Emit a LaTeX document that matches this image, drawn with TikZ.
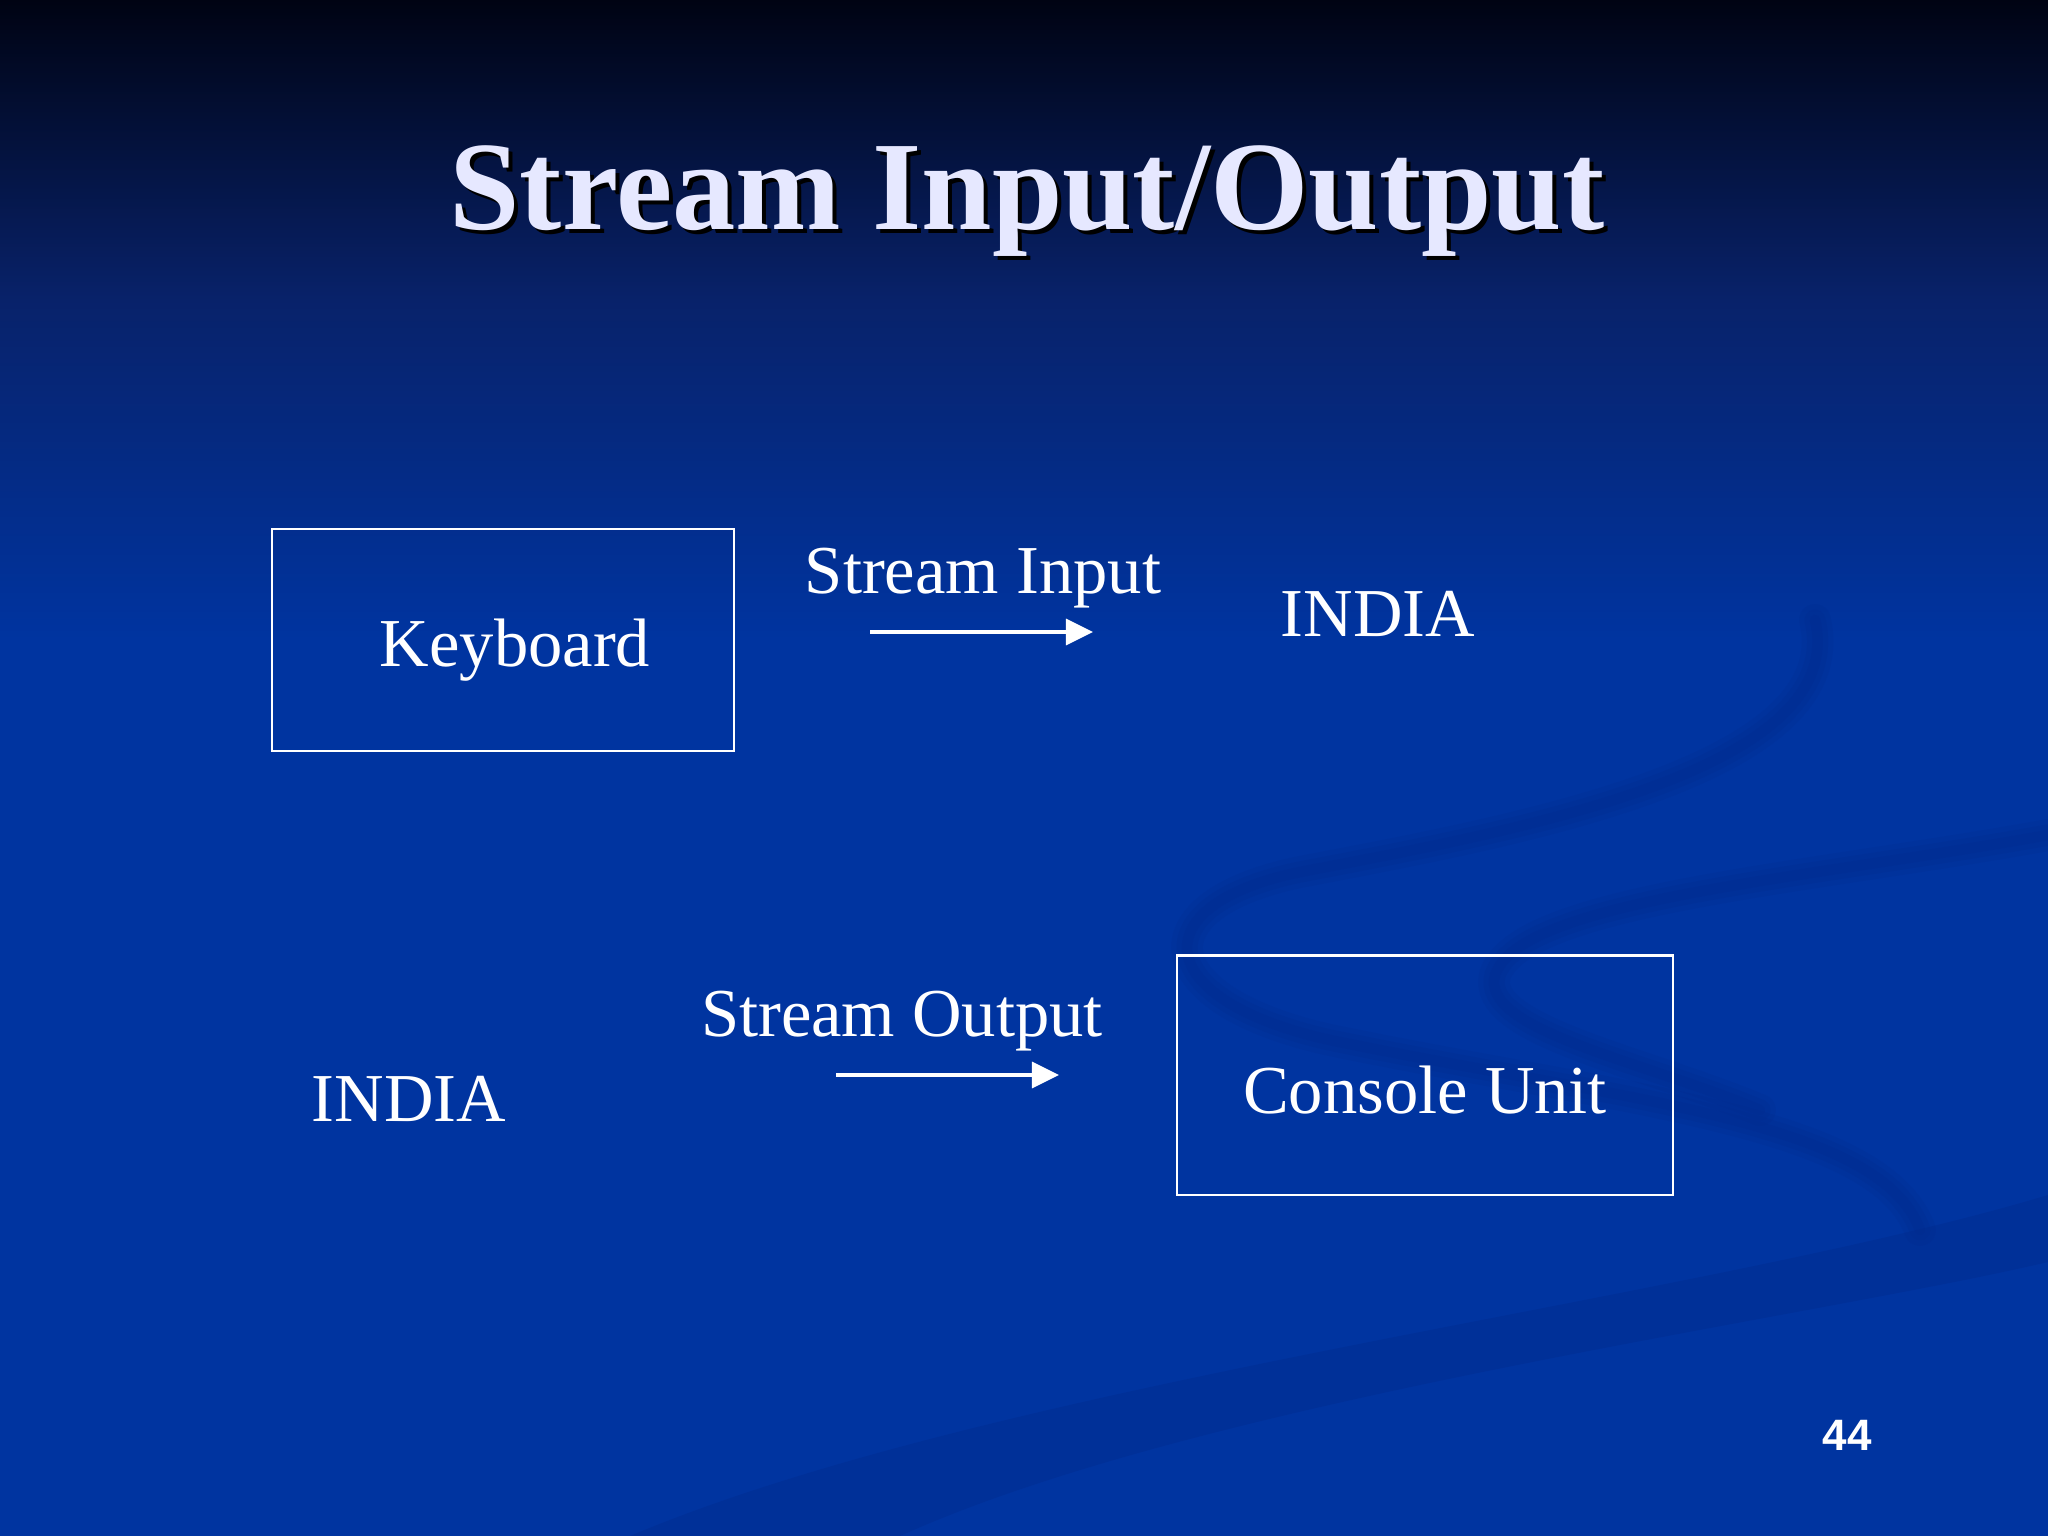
\documentclass[tikz,border=0pt]{standalone}
\usepackage{fontspec}
\setmainfont{Liberation Serif}
\newfontfamily\numfont{Liberation Sans}
\usetikzlibrary{arrows.meta,shadows}
\definecolor{bgtop}{HTML}{000313}
\definecolor{bgmid}{HTML}{08226A}
\definecolor{bgblue}{HTML}{0034A0}
\definecolor{swoosh}{HTML}{00298A}
\definecolor{titlecol}{HTML}{E6E8FF}
\tikzset{
  boxnode/.style={draw=white, line width=0.6pt, inner sep=0pt, text=white, font=\fontsize{19.5}{22}\selectfont},
  lbl/.style={text=white, font=\fontsize{19.5}{22}\selectfont, anchor=base, inner sep=0pt},
  flow/.style={draw=white, line width=0.9pt, -{Triangle[length=0.27cm,width=0.26cm]}},
  swo/.style={draw=swoosh, line cap=round, opacity=0.18}
}
\begin{document}
\begin{tikzpicture}[x=0.01cm,y=-0.01cm]
\useasboundingbox (0,0) rectangle (2048,1536);
% background
\fill[bgblue] (0,0) rectangle (2048,1536);
\shade[top color=bgtop, bottom color=bgmid] (0,0) rectangle (2048,300);
\shade[top color=bgmid, bottom color=bgblue] (0,299) rectangle (2048,640);
% swooshes (soft)
\foreach \w in {3,6,9}{
\draw[swo, line width=\w pt] (1815,620) .. controls (1850,770) and (1520,830) .. (1300,872) .. controls (1140,905) and (1150,1000) .. (1330,1040) .. controls (1620,1100) and (1880,1120) .. (1920,1230);
\draw[swo, line width=\w pt] (2048,835) .. controls (1800,880) and (1520,900) .. (1495,975) .. controls (1480,1030) and (1640,1060) .. (1760,1110);
}
\fill[swoosh, opacity=0.35] (2048,1195) .. controls (1700,1300) and (1000,1380) .. (630,1536) -- (900,1536) .. controls (1200,1400) and (1800,1320) .. (2048,1262) -- cycle;
% title
\node[anchor=base, inner sep=0pt, text=black, font=\fontsize{36}{40}\selectfont\bfseries] at (1031,233) {Stream Input/Output};
\node (title) [anchor=base, inner sep=0pt, text=titlecol, font=\fontsize{36}{40}\selectfont\bfseries] at (1027,229) {Stream Input/Output};
% boxes
\node (kb) [boxnode, minimum width=4.62cm, minimum height=2.22cm] at (503,640) {\hspace*{0.24cm}\raisebox{-0.26cm}[0pt][0pt]{Keyboard}};
\node (cu) [boxnode, minimum width=4.96cm, minimum height=2.39cm] at (1425,1075) {\raisebox{-0.38cm}[0pt][0pt]{Console Unit}};
% labels
\node (si) [lbl] at (983,593) {Stream Input};
\node (in1) [lbl] at (1378,636) {INDIA};
\node (so) [lbl] at (902,1036) {Stream Output};
\node (in2) [lbl] at (409,1121) {INDIA};
% arrows
\coordinate (a1s) at (870,632);
\coordinate (a1e) at (1093,632);
\coordinate (a2s) at (836,1075);
\coordinate (a2e) at (1059,1075);
\draw[flow] (a1s) -- (a1e);
\draw[flow] (a2s) -- (a2e);
% page number
\node (pg) [text=white, font=\numfont\bfseries\fontsize{12.5}{14}\selectfont, inner sep=0pt] at (1847,1435) {44};
\end{tikzpicture}
\end{document}
